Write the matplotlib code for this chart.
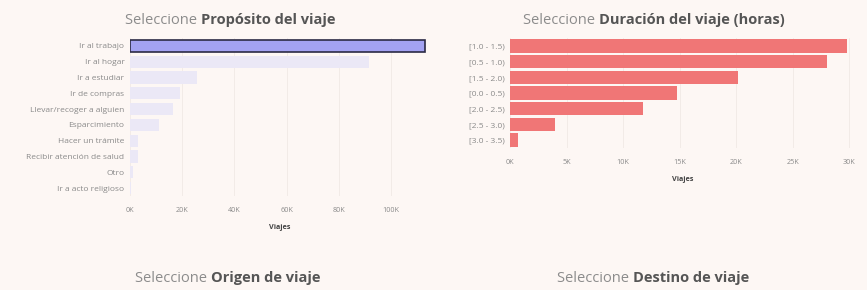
import matplotlib.pyplot as plt
from matplotlib.ticker import FuncFormatter

plt.rcParams['font.family'] = ['Open Sans', 'DejaVu Sans']

# data
proposito = ['Ir al trabajo', 'Ir al hogar', 'Ir a estudiar', 'Ir de compras',
             'Llevar/recoger a alguien', 'Esparcimiento', 'Hacer un trámite',
             'Recibir atención de salud', 'Otro', 'Ir a acto religioso']
viajes_proposito = [113000, 91500, 25500, 19000, 16500, 11000, 3000, 3000, 1000, 300]

duracion = ['[1.0 - 1.5)', '[0.5 - 1.0)', '[1.5 - 2.0)', '[0.0 - 0.5)',
            '[2.0 - 2.5)', '[2.5 - 3.0)', '[3.0 - 3.5)']
viajes_duracion = [29800, 28000, 20200, 14800, 11800, 4000, 700]

bg = '#fdf7f4'
W, H = 867, 290

fig = plt.figure(figsize=(W / 100, H / 100), dpi=100, facecolor=bg)


def box(x0, x1, ytop, ybot):
    return [x0 / W, 1 - ybot / H, (x1 - x0) / W, (ybot - ytop) / H]


kfmt = FuncFormatter(lambda v, p: '%dK' % round(v / 1000))


def style(ax):
    ax.set_facecolor(bg)
    for s in ax.spines.values():
        s.set_visible(False)
    ax.xaxis.set_major_formatter(kfmt)
    ax.tick_params(axis='both', length=0, labelcolor='#8a8a8a')
    ax.tick_params(axis='x', pad=8, labelsize=5.2)
    ax.tick_params(axis='y', pad=4, labelsize=6)
    ax.grid(axis='x', color='#f1e9e5', linewidth=0.6)
    ax.set_axisbelow(True)
    ax.set_xlabel('Viajes', fontsize=5.2, fontweight='bold', color='#444444', labelpad=7)


# left panel: purpose
ax1 = fig.add_axes(box(130, 430, 38, 196))
cols = ['#a3a2f2'] + ['#ebe8f6'] * (len(proposito) - 1)
bars = ax1.barh(proposito, viajes_proposito, height=0.78, color=cols)
bars[0].set_edgecolor('#2b2a45')
bars[0].set_linewidth(1.2)
ax1.set_xlim(0, 115000)
ax1.set_xticks(range(0, 100001, 20000))
style(ax1)
ax1.set_ylim(len(proposito) - 0.5, -0.5)

# right panel: duration
ax2 = fig.add_axes(box(510, 855, 38, 148))
ax2.barh(duracion, viajes_duracion, height=0.85, color='#f07676')
ax2.set_xlim(0, 30500)
ax2.set_xticks(range(0, 30001, 5000))
style(ax2)
ax2.set_ylim(len(duracion) - 0.5, -0.5)


def title(cx, cy, bold):
    t1 = fig.text(0, 0, 'Seleccione ', fontsize=10.5, color='#8c8c8c', va='center')
    t2 = fig.text(0, 0, bold, fontsize=10.5, color='#555555', fontweight='bold', va='center')
    r = fig.canvas.get_renderer()
    w1 = t1.get_window_extent(r).width
    w2 = t2.get_window_extent(r).width
    x0 = cx - (w1 + w2) / 2
    t1.set_position((x0 / W, 1 - cy / H))
    t2.set_position(((x0 + w1) / W, 1 - cy / H))


title(230, 20, 'Propósito del viaje')
title(654, 20, 'Duración del viaje (horas)')
title(228, 278, 'Origen de viaje')
title(653, 278, 'Destino de viaje')

fig.savefig('out.png', dpi=100, facecolor=bg)
